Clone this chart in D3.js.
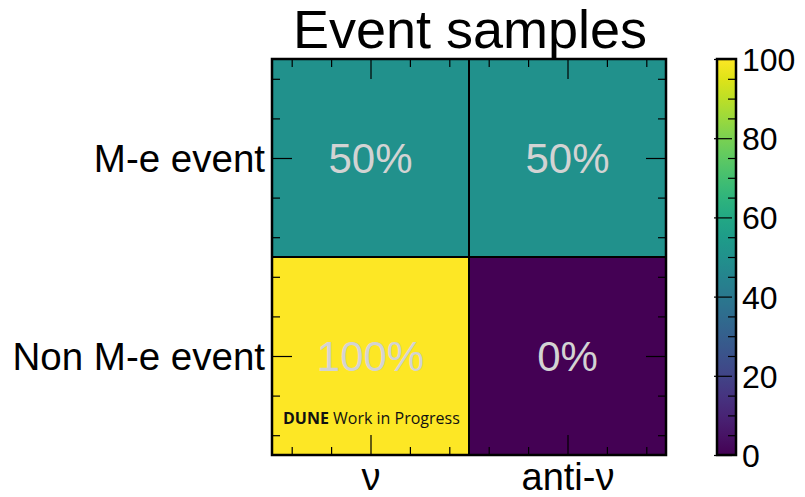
<!DOCTYPE html>
<html>
<head>
<meta charset="utf-8">
<script src="https://cdn.jsdelivr.net/npm/d3@7"></script>
<style>
  html, body { margin: 0; padding: 0; background: #fff; }
  svg { display: block; }
  text { font-family: "Liberation Sans", Arial, Helvetica, sans-serif; }
</style>
</head>
<body>
<svg id="chart" width="805" height="497"></svg>
<script>
// ---- data ----
const title = "Event samples";
const columns = ["ν", "anti-ν"];
const rows = ["M-e event", "Non M-e event"];
const values = [
  [50, 50],
  [100, 0]
];
const colorbarTicks = [0, 20, 40, 60, 80, 100];
const watermarkBold = "DUNE";
const watermarkText = " Work in Progress";

// ---- layout ----
const svg = d3.select("#chart");
const pLeft = 272, pRight = 666, pTop = 59, pBottom = 455;

const x = d3.scaleLinear().domain([-0.5, columns.length - 0.5]).range([pLeft, pRight]);
const y = d3.scaleLinear().domain([-0.5, rows.length - 0.5]).range([pTop, pBottom]);
const color = d3.scaleSequential(d3.interpolateViridis).domain([0, 100]);

const cells = [];
values.forEach((row, ri) => row.forEach((v, ci) => cells.push({ ri, ci, v })));

const g = svg.append("g");

// cells
g.selectAll("rect.cell").data(cells).enter().append("rect")
  .attr("class", "cell")
  .attr("x", d => x(d.ci - 0.5))
  .attr("y", d => y(d.ri - 0.5))
  .attr("width", d => x(d.ci + 0.5) - x(d.ci - 0.5))
  .attr("height", d => y(d.ri + 0.5) - y(d.ri - 0.5))
  .attr("fill", d => color(d.v))
  .attr("stroke", "#000")
  .attr("stroke-width", 2);

// cell labels
g.selectAll("text.val").data(cells).enter().append("text")
  .attr("class", "val")
  .attr("x", d => x(d.ci))
  .attr("y", d => y(d.ri))
  .attr("dy", "0.36em")
  .attr("text-anchor", "middle")
  .attr("font-size", 42)
  .attr("fill", "#d3d3d3")
  .text(d => d.v + "%");

// minor tick positions
const minorX = d3.range(-0.4, columns.length - 0.5, 0.2).map(v => +v.toFixed(2)).filter(v => Math.abs(v - Math.round(v)) > 1e-6);
const minorY = d3.range(-0.4, rows.length - 0.5, 0.2).map(v => +v.toFixed(2)).filter(v => Math.abs(v - Math.round(v)) > 1e-6);
const majorX = d3.range(columns.length);
const majorY = d3.range(rows.length);

function styleAxis(sel) {
  sel.select(".domain").remove();
  sel.selectAll(".tick line").attr("stroke", "#000").attr("stroke-width", 1.2);
}

// bottom axis (major with labels)
const axB = g.append("g").attr("transform", `translate(0,${pBottom})`)
  .call(d3.axisBottom(x).tickValues(majorX).tickSize(-20).tickFormat(i => columns[i]));
styleAxis(axB);
axB.selectAll("text").attr("font-size", 38).attr("fill", "#000").attr("y", 0).attr("dy", 0)
  .attr("transform", "translate(0,35)");
g.append("g").attr("transform", `translate(0,${pBottom})`)
  .call(d3.axisBottom(x).tickValues(minorX).tickSize(-8).tickFormat("")).call(styleAxis);

// top axis mirrored
g.append("g").attr("transform", `translate(0,${pTop})`)
  .call(d3.axisTop(x).tickValues(majorX).tickSize(-20).tickFormat("")).call(styleAxis);
g.append("g").attr("transform", `translate(0,${pTop})`)
  .call(d3.axisTop(x).tickValues(minorX).tickSize(-8).tickFormat("")).call(styleAxis);

// left axis
const axL = g.append("g").attr("transform", `translate(${pLeft},0)`)
  .call(d3.axisLeft(y).tickValues(majorY).tickSize(-20).tickPadding(7).tickFormat(i => rows[i]));
styleAxis(axL);
axL.selectAll("text").attr("font-size", 38.5).attr("fill", "#000").attr("dy", "0.35em");
g.append("g").attr("transform", `translate(${pLeft},0)`)
  .call(d3.axisLeft(y).tickValues(minorY).tickSize(-8).tickFormat("")).call(styleAxis);

// right axis mirrored
g.append("g").attr("transform", `translate(${pRight},0)`)
  .call(d3.axisRight(y).tickValues(majorY).tickSize(-20).tickFormat("")).call(styleAxis);
g.append("g").attr("transform", `translate(${pRight},0)`)
  .call(d3.axisRight(y).tickValues(minorY).tickSize(-8).tickFormat("")).call(styleAxis);

// frame
g.append("rect").attr("x", pLeft).attr("y", pTop).attr("width", pRight - pLeft).attr("height", pBottom - pTop)
  .attr("fill", "none").attr("stroke", "#000").attr("stroke-width", 2.5);

// watermark
const wm = g.append("text").attr("x", 283).attr("y", 424)
  .attr("font-size", 16).attr("fill", "#111")
  .style("font-family", "'Open Sans', sans-serif");
wm.append("tspan").attr("font-weight", "bold").text(watermarkBold);
wm.append("tspan").text(watermarkText);

// title
svg.append("text").attr("x", (pLeft + pRight) / 2 + 1).attr("y", 48)
  .attr("text-anchor", "middle").attr("font-size", 54).attr("fill", "#000")
  .text(title);

// colorbar
const cbX = 717, cbW = 19;
const cy = d3.scaleLinear().domain([0, 100]).range([pBottom, pTop]);
const defs = svg.append("defs");
const grad = defs.append("linearGradient").attr("id", "cbgrad")
  .attr("x1", 0).attr("y1", 1).attr("x2", 0).attr("y2", 0);
d3.range(0, 1.0001, 0.05).forEach(t => {
  grad.append("stop").attr("offset", t).attr("stop-color", d3.interpolateViridis(t));
});
const cb = svg.append("g");
cb.append("rect").attr("x", cbX).attr("y", pTop).attr("width", cbW).attr("height", pBottom - pTop)
  .attr("fill", "url(#cbgrad)");
// minor ticks on colorbar (every 5)
const cbMinor = d3.range(5, 100, 5).filter(v => v % 20 !== 0);
cb.append("g").attr("transform", `translate(${cbX + cbW},0)`)
  .call(d3.axisRight(cy).tickValues(cbMinor).tickSize(-8).tickFormat("")).call(styleAxis);
// major ticks with labels
const axC = cb.append("g").attr("transform", `translate(${cbX},0)`)
  .call(d3.axisRight(cy).tickValues(colorbarTicks).tickSize(-4).tickFormat(d3.format("d")));
styleAxis(axC);
axC.selectAll(".tick line").attr("x1", -3).attr("x2", 15);
axC.selectAll("text").attr("font-size", 32).attr("fill", "#000").attr("x", 25).attr("dy", "0.36em");
cb.append("rect").attr("x", cbX).attr("y", pTop).attr("width", cbW).attr("height", pBottom - pTop)
  .attr("fill", "none").attr("stroke", "#000").attr("stroke-width", 2.5);
</script>
</body>
</html>
